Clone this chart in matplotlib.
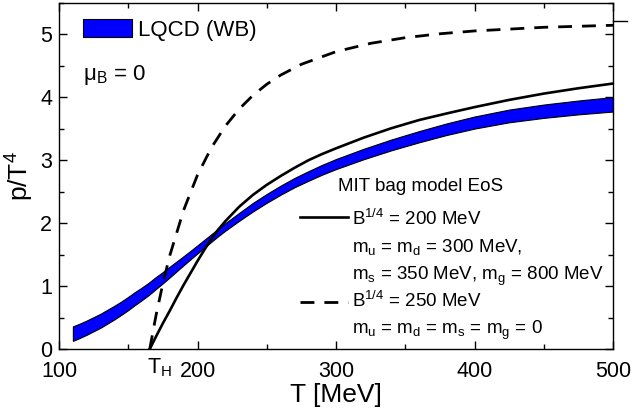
import matplotlib
matplotlib.use("Agg")
import matplotlib.pyplot as plt
from matplotlib.patches import Rectangle
from matplotlib.ticker import MultipleLocator
import matplotlib.transforms as mtransforms

plt.rcParams["font.family"] = ["Liberation Sans", "DejaVu Sans"]
plt.rcParams["mathtext.fontset"] = "custom"
plt.rcParams["mathtext.rm"] = "Liberation Sans"
plt.rcParams["mathtext.it"] = "Liberation Sans:italic"

# Lattice QCD (WB) pressure band
T_lqcd = [110, 115, 120, 125, 130, 135, 140, 145, 150, 155, 160, 165, 170, 175,
          180, 185, 190, 195, 200, 205, 210, 215, 220, 230, 240, 250, 260, 270,
          280, 290, 300, 320, 340, 360, 380, 400, 425, 450, 475, 500]
p_lqcd_lo = [0.130, 0.176, 0.227, 0.283, 0.339, 0.405, 0.472, 0.544, 0.620, 0.702,
             0.780, 0.862, 0.955, 1.045, 1.140, 1.237, 1.333, 1.428, 1.521, 1.613,
             1.705, 1.795, 1.880, 2.037, 2.187, 2.325, 2.453, 2.571, 2.674, 2.772,
             2.860, 3.017, 3.159, 3.286, 3.403, 3.504, 3.604, 3.674, 3.730, 3.775]
p_lqcd_hi = [0.360, 0.404, 0.453, 0.507, 0.561, 0.625, 0.688, 0.756, 0.830, 0.908,
             0.980, 1.058, 1.145, 1.225, 1.310, 1.393, 1.477, 1.562, 1.649, 1.737,
             1.825, 1.915, 2.000, 2.163, 2.323, 2.465, 2.597, 2.719, 2.826, 2.928,
             3.020, 3.183, 3.331, 3.464, 3.587, 3.696, 3.806, 3.886, 3.950, 4.005]

# MIT bag model, B^1/4 = 200 MeV with massive quarks and gluons
T_bag200 = [165.5, 168, 171, 175, 180, 185, 190, 195, 200, 205, 210, 215, 220,
            230, 240, 250, 260, 270, 280, 290, 300, 320, 340, 360, 380, 400, 425,
            450, 475, 500]
p_bag200 = [0.0, 0.11, 0.24, 0.41, 0.61, 0.82, 1.02, 1.21, 1.40, 1.58, 1.75, 1.90,
            2.03, 2.26, 2.45, 2.61, 2.75, 2.88, 3.00, 3.10, 3.19, 3.36, 3.51, 3.64,
            3.745, 3.845, 3.96, 4.06, 4.145, 4.22]

# MIT bag model, B^1/4 = 250 MeV, massless partons
T_bag250 = [165.5, 170, 175, 180, 190, 200, 210, 220, 230, 240, 250, 260, 275,
            300, 325, 350, 375, 400, 450, 500]
p_bag250 = [0.0, 0.532, 1.044, 1.488, 2.21, 2.768, 3.200, 3.542, 3.813, 4.032,
            4.209, 4.354, 4.526, 4.727, 4.859, 4.949, 5.011, 5.056, 5.114, 5.146]

p_sb = 5.209          # Stefan-Boltzmann limit
T_hag = 163.3         # position of the T_H mark

fig = plt.figure(figsize=(6.32, 4.17), dpi=100)
ax = fig.add_axes([0.0934, 0.163, 0.8766, 0.8298])

ax.fill_between(T_lqcd, p_lqcd_lo, p_lqcd_hi, facecolor="#0000ff",
                edgecolor="black", linewidth=0.8, zorder=2)
ax.plot(T_bag200, p_bag200, color="black", lw=1.9, zorder=3)
ax.plot(T_bag250, p_bag250, color="black", lw=2.0, dashes=(5, 3.6), zorder=3)

ax.set_xlim(100, 500)
ax.set_ylim(0, 5.5)
ax.xaxis.set_major_locator(MultipleLocator(100))
ax.xaxis.set_minor_locator(MultipleLocator(50))
ax.yaxis.set_major_locator(MultipleLocator(1))
ax.yaxis.set_minor_locator(MultipleLocator(0.5))
ax.tick_params(which="both", direction="in", top=True, right=True, width=1.0,
               labelsize=15.5)
ax.tick_params(which="major", length=6)
ax.tick_params(axis="x", which="major", pad=8.5)
ax.tick_params(axis="y", which="major", pad=5)
ax.tick_params(which="minor", length=3.5)
for s in ax.spines.values():
    s.set_linewidth(1.0)

ax.set_xlabel("T [MeV]", fontsize=19, labelpad=1)
ax.set_ylabel("p/T$^\\mathregular{4}$", fontsize=19, labelpad=3)

# Stefan-Boltzmann mark outside the right spine
trans_r = mtransforms.blended_transform_factory(ax.transAxes, ax.transData)
ax.plot([1.0, 1.025], [p_sb, p_sb], color="black", lw=1.0, transform=trans_r,
        clip_on=False)

# T_H mark under the axis
trans_b = mtransforms.blended_transform_factory(ax.transData, ax.transAxes)
ax.text(T_hag, -0.0702, "T$_\\mathregular{H}$", transform=trans_b, fontsize=15.5,
        ha="left", va="baseline")

# LQCD key
ax.add_patch(Rectangle((0.0439, 0.9026), 0.0874, 0.0503, transform=ax.transAxes,
                       facecolor="#0000ff", edgecolor="black", lw=0.8))
ax.text(0.1426, 0.9046, "LQCD (WB)", transform=ax.transAxes, fontsize=16,
        ha="left", va="baseline")
ax.text(0.0433, 0.777, "\u03bc$_\\mathregular{B}$ = 0", transform=ax.transAxes,
        fontsize=16, ha="left", va="baseline")

# MIT bag model key
ax.text(0.5036, 0.4575, "MIT bag model EoS", transform=ax.transAxes, fontsize=13.5,
        ha="left", va="baseline")
ax.plot([0.435, 0.522], [0.3815, 0.3815], color="black", lw=1.9,
        transform=ax.transAxes)
ax.plot([0.435, 0.522], [0.136, 0.136], color="black", lw=2.0, dashes=(5, 3.6),
        transform=ax.transAxes)
key_lines = [
    (0.358, "B$^\\mathregular{1/4}$ = 200 MeV"),
    (0.280, "m$_\\mathregular{u}$ = m$_\\mathregular{d}$ = 300 MeV,"),
    (0.199, "m$_\\mathregular{s}$ = 350 MeV, m$_\\mathregular{g}$ = 800 MeV"),
    (0.1223, "B$^\\mathregular{1/4}$ = 250 MeV"),
    (0.0434, "m$_\\mathregular{u}$ = m$_\\mathregular{d}$ = m$_\\mathregular{s}$ = m$_\\mathregular{g}$ = 0"),
]
for yk, txt in key_lines:
    ax.text(0.529, yk, txt, transform=ax.transAxes, fontsize=13.5, ha="left",
            va="baseline")

fig.savefig("out.png", dpi=100)
